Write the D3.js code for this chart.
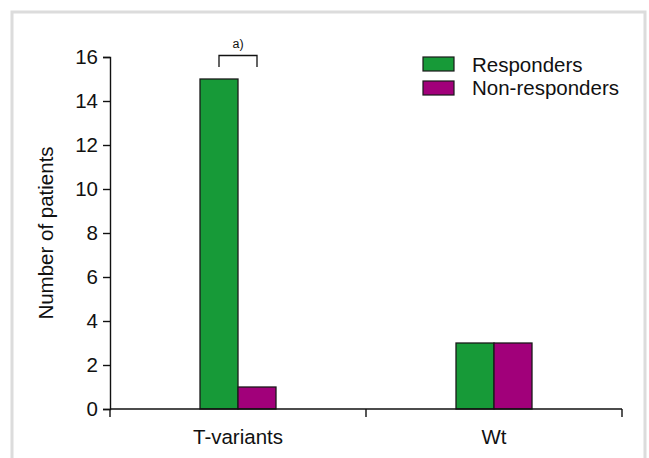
<!DOCTYPE html>
<html>
<head>
<meta charset="utf-8">
<script src="https://cdn.jsdelivr.net/npm/d3@7"></script>
<style>
  html, body { margin: 0; padding: 0; background: #fff; }
  svg { display: block; }
  text { font-family: "Liberation Sans", Arial, sans-serif; fill: #111; }
</style>
</head>
<body>
<svg id="chart" width="649" height="458"></svg>
<script>
// Patient counts by genotype group
const categories = ["T-variants", "Wt"];
const seriesNames = ["Responders", "Non-responders"];
const responders = [15, 3];
const nonResponders = [1, 3];
const yTicks = [0, 2, 4, 6, 8, 10, 12, 14, 16];
const colors = ["#179a38", "#a1007a"];

const svg = d3.select("#chart");
const W = 649, H = 458;
const FS = "20.5px";

// outer panel frame (open at the bottom)
svg.append("path")
  .attr("d", `M12,${H} V12 H645 V${H}`)
  .attr("fill", "none")
  .attr("stroke", "#dcdcdc")
  .attr("stroke-width", 3);

const margin = { left: 110, right: 27, top: 57, bottom: 49 };
const x0 = margin.left, x1 = W - margin.right;
const yBase = H - margin.bottom, yTop = margin.top;

const x = d3.scaleBand().domain(categories).range([x0, x1]).paddingInner(0).paddingOuter(0);
const y = d3.scaleLinear().domain([0, 16]).range([yBase, yTop]);
const barW = 38;
const xs = d3.scaleBand().domain(seriesNames).range([-barW, barW]).padding(0);

const rows = categories.map((c, i) => ({ cat: c, values: [responders[i], nonResponders[i]] }));

// bars
const g = svg.append("g");
rows.forEach(r => {
  r.values.forEach((v, j) => {
    g.append("rect")
      .attr("x", x(r.cat) + x.bandwidth() / 2 + xs(seriesNames[j]))
      .attr("y", y(v))
      .attr("width", xs.bandwidth())
      .attr("height", y(0) - y(v))
      .attr("fill", colors[j])
      .attr("stroke", "#1a1a1a")
      .attr("stroke-width", 1.3);
  });
});

// y axis
const yAxis = d3.axisLeft(y).tickValues(yTicks).tickSize(7).tickPadding(5);
const ya = svg.append("g").attr("transform", `translate(${x0},0)`).call(yAxis);
ya.select(".domain").attr("stroke", "#111").attr("stroke-width", 1.4);
ya.selectAll(".tick line").attr("stroke", "#111").attr("stroke-width", 1.4);
ya.selectAll(".tick text").style("font-size", FS).style("font-family", "'Liberation Sans', Arial, sans-serif").attr("fill", "#111");

// x axis with boundary ticks
const xa = svg.append("g").attr("transform", `translate(0,${yBase})`);
xa.append("line").attr("x1", x0).attr("x2", x1).attr("y1", 0).attr("y2", 0)
  .attr("stroke", "#111").attr("stroke-width", 1.4);
const boundaries = [x0, ...categories.map(c => x(c) + x.bandwidth())];
boundaries.forEach(b => {
  xa.append("line").attr("x1", b).attr("x2", b).attr("y1", 0).attr("y2", 8)
    .attr("stroke", "#111").attr("stroke-width", 1.4);
});
categories.forEach(c => {
  xa.append("text")
    .attr("x", x(c) + x.bandwidth() / 2)
    .attr("y", 35)
    .attr("text-anchor", "middle")
    .style("font-size", FS)
    .text(c);
});

// y axis title
svg.append("text")
  .attr("transform", `translate(53,${(yBase + yTop) / 2}) rotate(-90)`)
  .attr("text-anchor", "middle")
  .style("font-size", FS)
  .text("Number of patients");

// significance bracket over the T-variants pair
const cx = x(categories[0]) + x.bandwidth() / 2;
svg.append("path")
  .attr("d", `M${cx - 19},${y(16) + 10} V${y(16) - 1.5} H${cx + 19} V${y(16) + 10}`)
  .attr("fill", "none")
  .attr("stroke", "#111")
  .attr("stroke-width", 1.3);
svg.append("text")
  .attr("x", cx)
  .attr("y", y(16) - 9)
  .attr("text-anchor", "middle")
  .style("font-size", "12.5px")
  .text("a)");

// legend
const lg = svg.append("g").attr("transform", "translate(423,57)");
seriesNames.forEach((s, i) => {
  lg.append("rect")
    .attr("x", 0).attr("y", i * 24)
    .attr("width", 31).attr("height", 14)
    .attr("fill", colors[i])
    .attr("stroke", "#1a1a1a")
    .attr("stroke-width", 1.2);
  lg.append("text")
    .attr("x", 49).attr("y", i * 23 + 15)
    .style("font-size", FS)
    .text(s);
});
</script>
</body>
</html>
